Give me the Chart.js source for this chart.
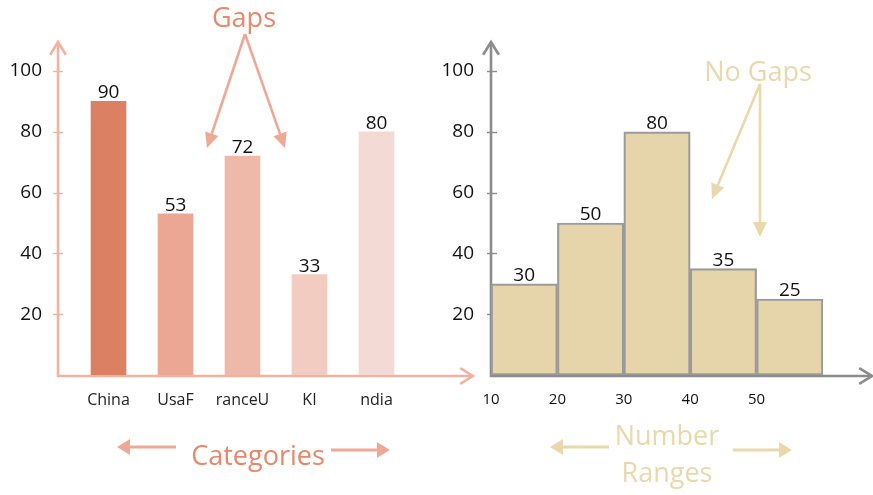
<!DOCTYPE html>
<html>
<head>
<meta charset="utf-8">
<script src="https://cdn.jsdelivr.net/npm/chart.js@4/dist/chart.umd.min.js"></script>
<style>
  html, body { margin: 0; padding: 0; background: #ffffff; }
  #wrap { position: relative; width: 873px; height: 495px; overflow: hidden; }
  #wrap canvas { position: absolute; left: 0; top: 0; }
</style>
</head>
<body>
<div id="wrap">
  <canvas id="barChart" width="873" height="495"></canvas>
  <canvas id="histChart" width="873" height="495"></canvas>
</div>
<script>
// Bar chart: one bar per category
const countryLabels = ['China', 'UsaF', 'ranceU', 'KI', 'ndia'];
const countryValues = [90, 53, 72, 33, 80];

// Histogram: counts per range of 10
const rangeStarts = [10, 20, 30, 40, 50];
const rangeCounts = [30, 50, 80, 35, 25];
const rangeWidth = 10;

// Axis tick labels
const valueTicks = [20, 40, 60, 80, 100];
const rangeTicks = [10, 20, 30, 40, 50];

const barColors = ['#DC8063', '#ECA794', '#EFB9A9', '#F2CBC1', '#F4DAD5'];
const FONT = "'Open Sans', 'Noto Sans', sans-serif";

// --- drawing helpers -------------------------------------------------------
function openArrowHead(ctx, tipX, tipY, angle, len, spread) {
  ctx.beginPath();
  ctx.moveTo(tipX + len * Math.cos(angle + spread), tipY + len * Math.sin(angle + spread));
  ctx.lineTo(tipX, tipY);
  ctx.lineTo(tipX + len * Math.cos(angle - spread), tipY + len * Math.sin(angle - spread));
  ctx.stroke();
}

function solidArrow(ctx, x1, y1, x2, y2, color, width, headLen, headHalf) {
  const a = Math.atan2(y2 - y1, x2 - x1);
  const bx = x2 - headLen * Math.cos(a), by = y2 - headLen * Math.sin(a);
  ctx.save();
  ctx.strokeStyle = color;
  ctx.fillStyle = color;
  ctx.lineWidth = width;
  ctx.beginPath();
  ctx.moveTo(x1, y1);
  ctx.lineTo(bx, by);
  ctx.stroke();
  ctx.beginPath();
  ctx.moveTo(x2, y2);
  ctx.lineTo(bx + headHalf * Math.sin(a), by - headHalf * Math.cos(a));
  ctx.lineTo(bx - headHalf * Math.sin(a), by + headHalf * Math.cos(a));
  ctx.closePath();
  ctx.fill();
  ctx.restore();
}

function label(ctx, text, x, y, color, size) {
  ctx.save();
  ctx.fillStyle = color;
  ctx.font = size + 'px ' + FONT;
  ctx.textAlign = 'center';
  ctx.textBaseline = 'middle';
  ctx.fillText(text, x, y);
  ctx.restore();
}

// Axis lines with arrow tips and short tick marks, drawn from the chart scales
const arrowAxes = {
  id: 'arrowAxes',
  beforeDatasetsDraw(chart, args, opts) {
    const ctx = chart.ctx;
    const y = chart.scales.y;
    const x0 = chart.chartArea.left - opts.axisOffset;
    const baseY = y.getPixelForValue(0) + 1;
    ctx.save();
    ctx.strokeStyle = opts.color;
    ctx.lineWidth = 2.6;
    ctx.lineCap = 'butt';
    // vertical axis
    ctx.beginPath();
    ctx.moveTo(x0, baseY + 1);
    ctx.lineTo(x0, opts.topY);
    ctx.stroke();
    openArrowHead(ctx, x0, opts.topY, Math.PI / 2, 15, 0.55);
    // horizontal axis
    ctx.beginPath();
    ctx.moveTo(x0 - 1, baseY);
    ctx.lineTo(opts.rightX, baseY);
    ctx.stroke();
    openArrowHead(ctx, opts.rightX, baseY, Math.PI, 15, 0.55);
    // tick marks
    ctx.lineWidth = 1.4;
    valueTicks.forEach(v => {
      const py = Math.round(y.getPixelForValue(v)) + 0.5;
      ctx.beginPath();
      ctx.moveTo(x0 - opts.tickLeft, py);
      ctx.lineTo(x0 + opts.tickRight, py);
      ctx.stroke();
    });
    ctx.restore();
  }
};

// Value printed just above each bar
const valueLabels = {
  id: 'valueLabels',
  afterDatasetsDraw(chart, args, opts) {
    const ctx = chart.ctx;
    const meta = chart.getDatasetMeta(0);
    const data = chart.data.datasets[0].data;
    ctx.save();
    ctx.fillStyle = '#111';
    ctx.font = '19px ' + FONT;
    ctx.textAlign = 'center';
    ctx.textBaseline = 'alphabetic';
    meta.data.forEach((bar, i) => {
      const v = typeof data[i] === 'object' ? data[i].y : data[i];
      ctx.fillText(String(v), bar.x, bar.y - opts.gap);
    });
    ctx.restore();
  }
};

// Callout texts and arrows
const callouts = {
  id: 'callouts',
  afterDraw(chart, args, opts) {
    opts.draw(chart.ctx);
  }
};

function valueAxis(width, padding) {
  return {
    type: 'linear',
    min: 0,
    max: 100,
    grid: { display: false },
    border: { display: false },
    afterBuildTicks: s => { s.ticks = valueTicks.map(v => ({ value: v })); },
    afterFit: s => { s.width = width; },
    ticks: { color: '#111', padding: padding, font: { family: FONT, size: 19 } }
  };
}

// --- left: bar chart with gaps --------------------------------------------
new Chart(document.getElementById('barChart'), {
  type: 'bar',
  data: {
    labels: countryLabels,
    datasets: [{
      data: countryValues,
      backgroundColor: barColors,
      borderWidth: 0,
      barThickness: 35
    }]
  },
  options: {
    responsive: false,
    animation: false,
    events: [],
    layout: { padding: { left: 0, top: 71, right: 463, bottom: 80 } },
    plugins: {
      legend: { display: false },
      tooltip: { enabled: false },
      valueLabels: { gap: 3 },
      arrowAxes: { color: '#F1B2A2', axisOffset: 17, topY: 42, rightX: 473, tickLeft: 5, tickRight: 5 },
      callouts: {
        draw(ctx) {
          const c = '#EEA996';
          label(ctx, 'Gaps', 244, 19, '#E8876B', 27);
          solidArrow(ctx, 245, 34, 207, 148, c, 2.6, 15, 7);
          solidArrow(ctx, 245, 34, 285, 148, c, 2.6, 15, 7);
          label(ctx, 'Categories', 258, 457, '#E8876B', 27);
          solidArrow(ctx, 176, 447, 117, 447, c, 3.2, 13, 8);
          solidArrow(ctx, 331, 450, 390, 450, c, 3.2, 13, 8);
        }
      }
    },
    scales: {
      x: {
        type: 'category',
        offset: true,
        grid: { display: false },
        border: { display: false },
        afterFit: s => { s.height = 40; },
        ticks: { color: '#222', padding: 8, font: { family: FONT, size: 16 } }
      },
      y: valueAxis(75, 25)
    }
  },
  plugins: [arrowAxes, valueLabels, callouts]
});

// --- right: histogram without gaps ----------------------------------------
new Chart(document.getElementById('histChart'), {
  type: 'bar',
  data: {
    datasets: [{
      data: rangeStarts.map((s, i) => ({ x: s + rangeWidth / 2, y: rangeCounts[i] })),
      backgroundColor: '#E6D5AB',
      borderColor: '#9A9A9A',
      borderWidth: 2.2,
      borderSkipped: false,
      barPercentage: 1,
      categoryPercentage: 1
    }]
  },
  options: {
    responsive: false,
    animation: false,
    events: [],
    layout: { padding: { left: 0, top: 71, right: 50, bottom: 80 } },
    plugins: {
      legend: { display: false },
      tooltip: { enabled: false },
      valueLabels: { gap: 3 },
      arrowAxes: { color: '#8C8C8C', axisOffset: 0, topY: 42, rightX: 872, tickLeft: 4, tickRight: 6 },
      callouts: {
        draw(ctx) {
          const c = '#E9D8AC';
          label(ctx, 'No Gaps', 758, 73, '#E9D8AC', 27);
          solidArrow(ctx, 760, 84, 712, 199, c, 2.6, 15, 7);
          solidArrow(ctx, 760, 84, 760, 237, c, 2.6, 15, 7);
          label(ctx, 'Number', 667, 437, '#E9D8AC', 27);
          label(ctx, 'Ranges', 667, 474, '#E9D8AC', 27);
          solidArrow(ctx, 609, 447, 550, 447, c, 3.2, 13, 8);
          solidArrow(ctx, 733, 450, 792, 450, c, 3.2, 13, 8);
        }
      }
    },
    scales: {
      x: {
        type: 'linear',
        min: 10,
        max: 60,
        offset: false,
        grid: { display: false },
        border: { display: false },
        afterBuildTicks: s => { s.ticks = rangeTicks.map(v => ({ value: v })); },
        afterFit: s => { s.height = 40; },
        ticks: { color: '#111', padding: 8, font: { family: FONT, size: 15 } }
      },
      y: valueAxis(491, 9)
    }
  },
  plugins: [arrowAxes, valueLabels, callouts]
});
</script>
</body>
</html>
